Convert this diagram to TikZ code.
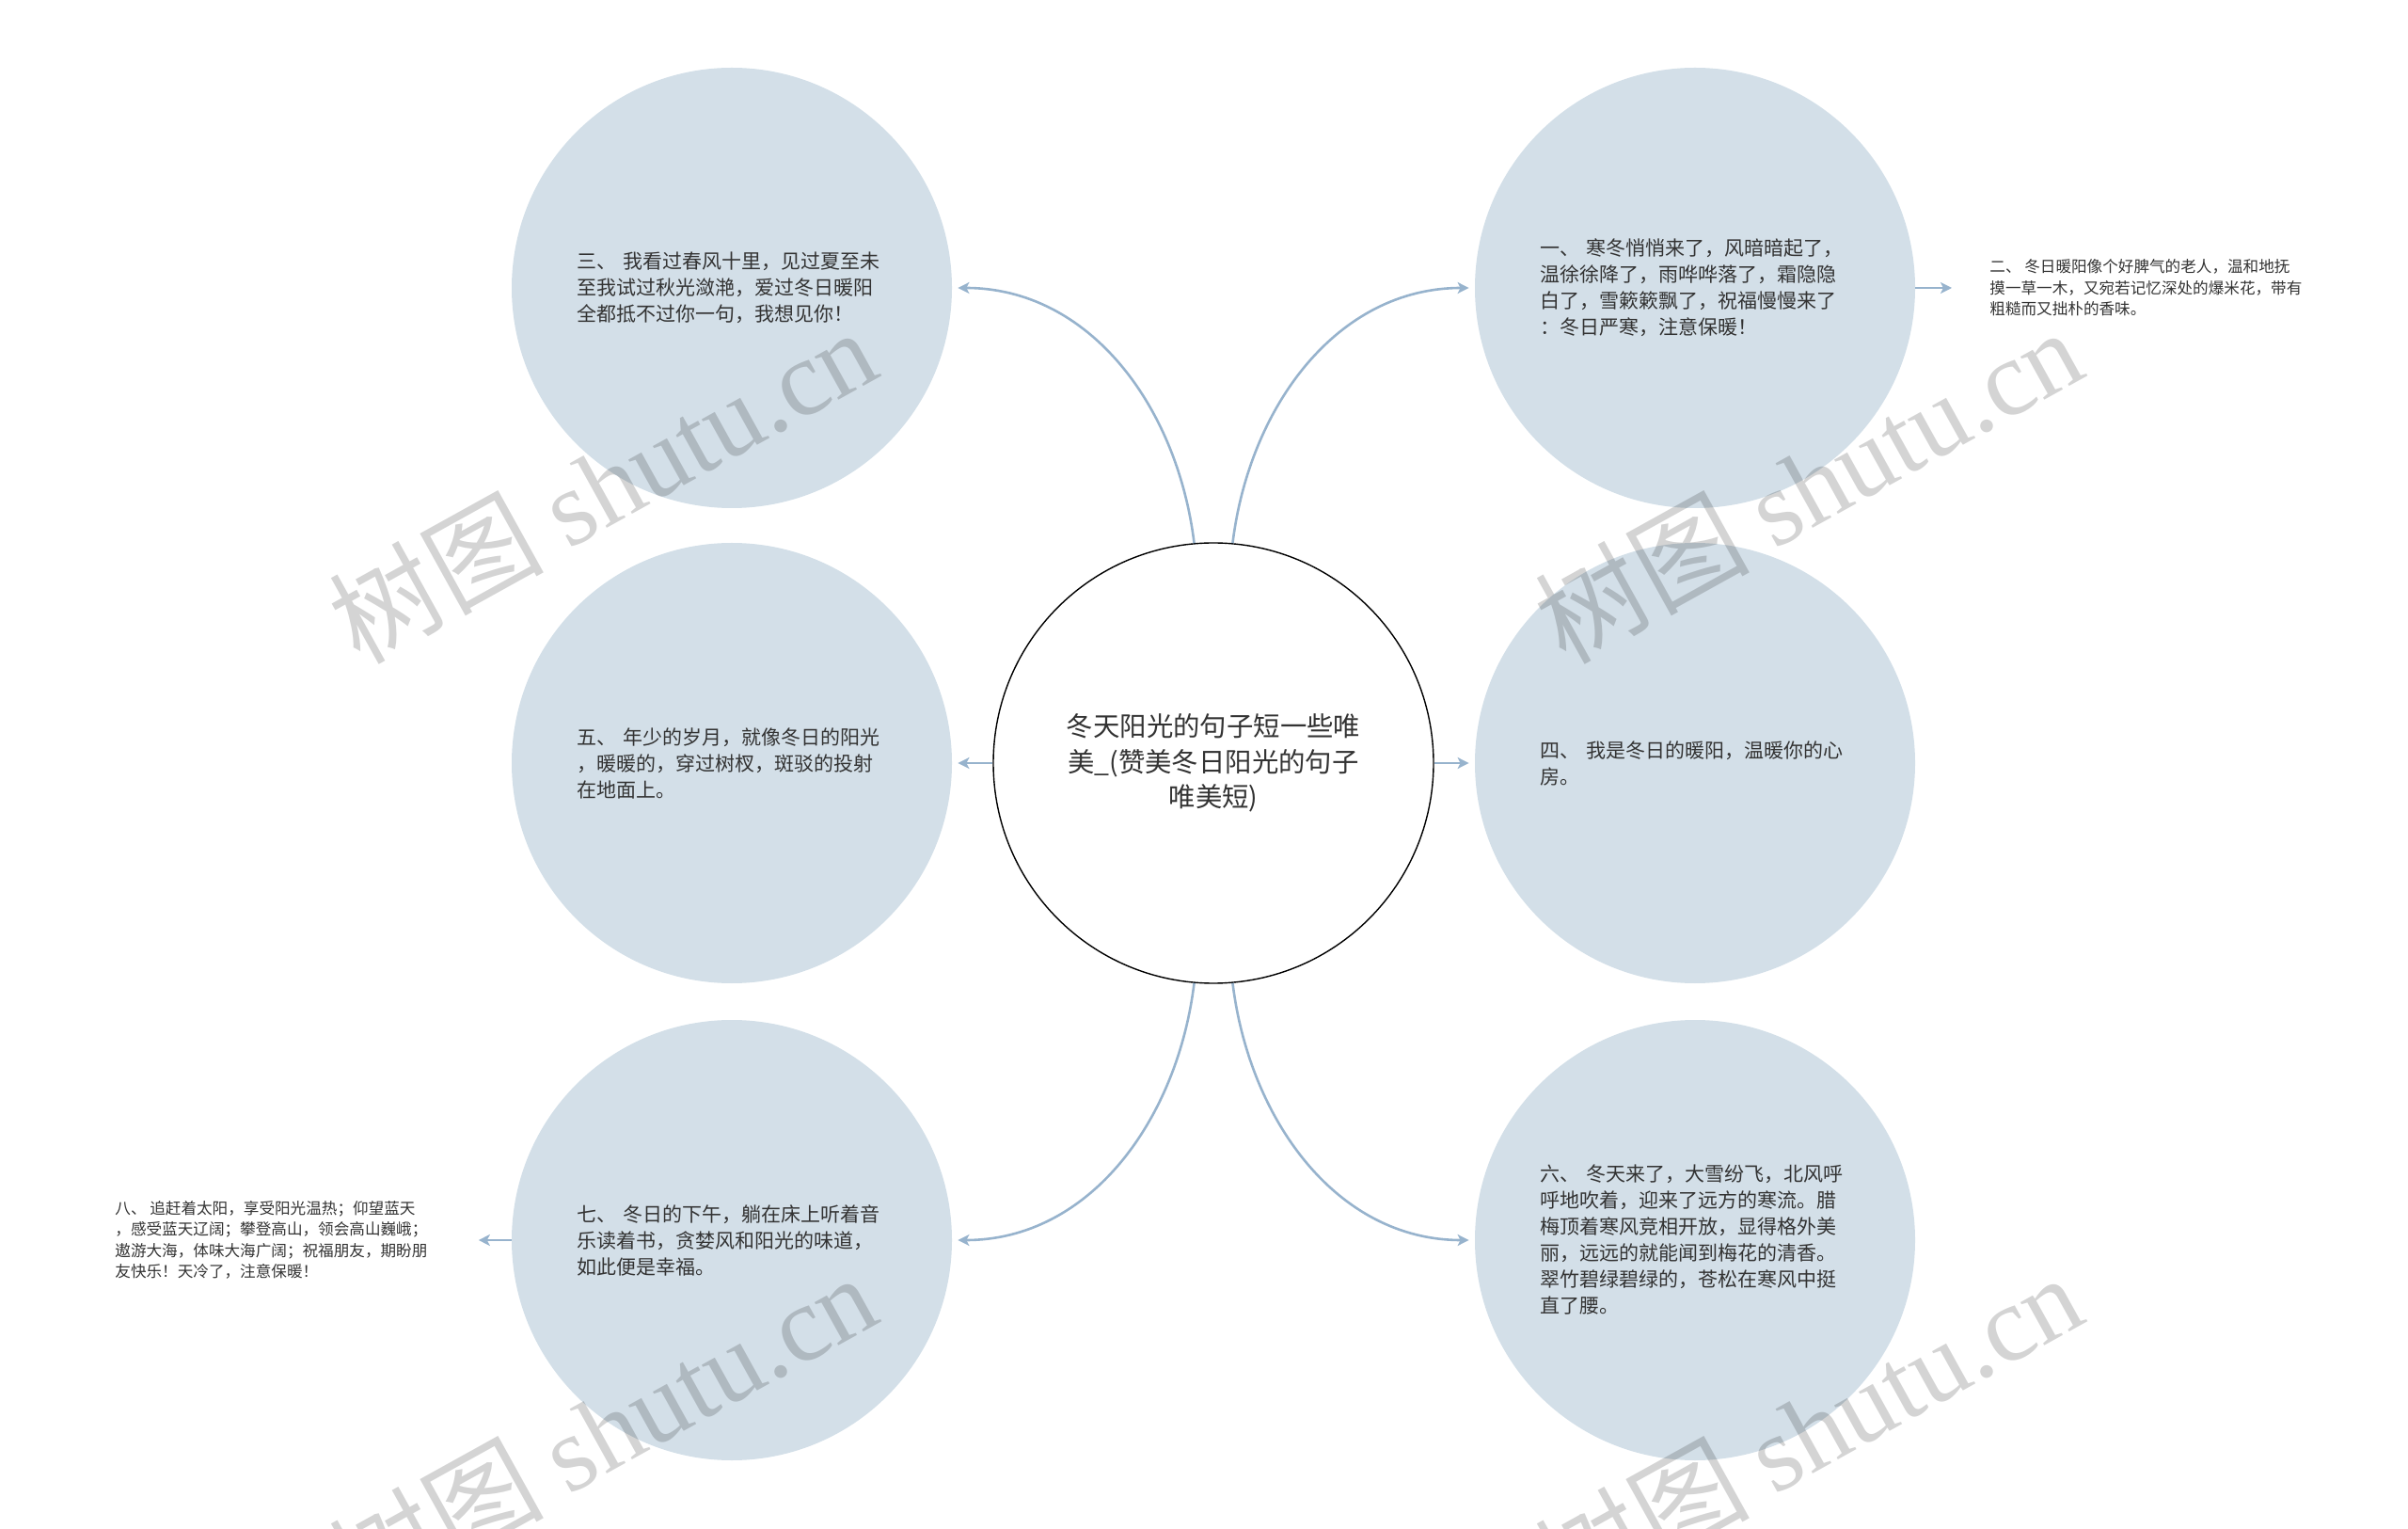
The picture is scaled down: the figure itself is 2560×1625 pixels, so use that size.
\documentclass[tikz,border=0pt]{standalone}
\usepackage{fontspec}
\setmainfont{Noto Sans CJK SC}
\newfontfamily\wmserif{Liberation Serif}
\usetikzlibrary{arrows.meta}
\definecolor{bubblec}{HTML}{D3DFE8}
\definecolor{linkc}{HTML}{97B3CD}
\definecolor{txtc}{HTML}{333333}
\begin{document}
\begin{tikzpicture}[x=0.5pt,y=-0.5pt,
  bubble/.style={circle, fill=bubblec, minimum size=234pt, inner sep=0pt, text width=165pt, align=left, text=txtc, font=\fontsize{10.5pt}{14pt}\selectfont},
  hub/.style={circle, draw=black, line width=0.7pt, fill=white, minimum size=234pt, inner sep=0pt, align=center, text=txtc, font=\fontsize{14.2pt}{18.7pt}\selectfont},
  leaf/.style={inner ysep=0pt, align=left, text=txtc, font=\fontsize{8.3pt}{11.2pt}\selectfont},
  link/.style={draw=linkc, line width=1.3pt, -{Stealth[length=6pt,width=6pt,inset=1.5pt]}, shorten >=3pt},
  wm/.style={rotate=29, text=black, text opacity=0.17, inner sep=0pt, font=\fontsize{57pt}{57pt}\selectfont}]
\useasboundingbox (0,0) rectangle (2560,1625);

\node[hub] (c) at (1290,811) {冬天阳光的句子短一些唯\\美\_(赞美冬日阳光的句子\\唯美短)};

\node[bubble] (n3) at (778,306) {三、 我看过春风十里，见过夏至未\\至我试过秋光潋滟，爱过冬日暖阳\\全都抵不过你一句，我想见你！};
\node[bubble] (n1) at (1802,306) {一、 寒冬悄悄来了，风暗暗起了，\\温徐徐降了，雨哗哗落了，霜隐隐\\白了，雪簌簌飘了，祝福慢慢来了\\：冬日严寒，注意保暖！};
\node[bubble] (n5) at (778,811) {五、 年少的岁月，就像冬日的阳光\\，暖暖的，穿过树杈，斑驳的投射\\在地面上。};
\node[bubble] (n4) at (1802,811) {四、 我是冬日的暖阳，温暖你的心\\房。};
\node[bubble] (n7) at (778,1318) {七、 冬日的下午，躺在床上听着音\\乐读着书，贪婪风和阳光的味道，\\如此便是幸福。};
\node[bubble] (n6) at (1802,1318) {六、 冬天来了，大雪纷飞，北风呼\\呼地吹着，迎来了远方的寒流。腊\\梅顶着寒风竞相开放，显得格外美\\丽，远远的就能闻到梅花的清香。\\翠竹碧绿碧绿的，苍松在寒风中挺\\直了腰。};

\node[leaf, inner xsep=20pt, anchor=west] (l2) at (2075,306) {二、 冬日暖阳像个好脾气的老人，温和地抚\\摸一草一木，又宛若记忆深处的爆米花，带有\\粗糙而又拙朴的香味。};
\node[leaf, inner xsep=0pt, anchor=west] (l8) at (122,1318) {八、 追赶着太阳，享受阳光温热；仰望蓝天\\，感受蓝天辽阔；攀登高山，领会高山巍峨；\\遨游大海，体味大海广阔；祝福朋友，期盼朋\\友快乐！天冷了，注意保暖！};

\draw[link] (c.95) to[out=97,in=0] (n3.east);
\draw[link] (c.85) to[out=83,in=180] (n1.west);
\draw[link] (c.265) to[out=263,in=0] (n7.east);
\draw[link] (c.275) to[out=277,in=180] (n6.west);
\draw[link] (c.west) -- (n5.east);
\draw[link] (c.east) -- (n4.west);
\draw[link, shorten >=0pt] (n1.east) -- (l2.west);
\draw[link, shorten >=0pt] (n7.west) -- ([xshift=27pt]l8.east);

\node[wm] (wm1) at (640,515) {树图 {\wmserif shutu.cn}};
\node[wm] (wm2) at (1922,515) {树图 {\wmserif shutu.cn}};
\node[wm] (wm3) at (640,1520) {树图 {\wmserif shutu.cn}};
\node[wm] (wm4) at (1922,1520) {树图 {\wmserif shutu.cn}};
\end{tikzpicture}
\end{document}
